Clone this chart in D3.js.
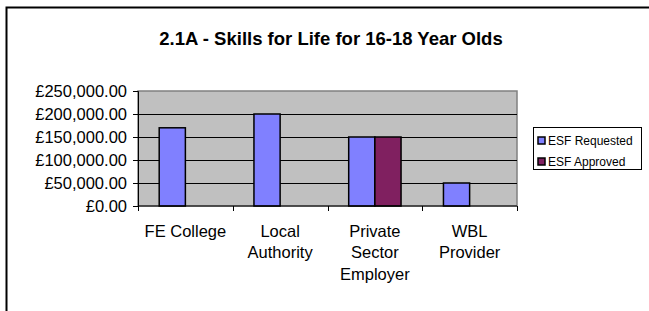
<!DOCTYPE html>
<html lang="en">
<head>
<meta charset="utf-8">
<title>2.1A - Skills for Life for 16-18 Year Olds</title>
<script src="https://d3js.org/d3.v7.min.js"></script>
<style>
    body { margin: 0; background: white; }
    svg { display: block; font-family: Arial, "Liberation Sans", sans-serif; }
</style>
</head>
<body>
<div id="viz"></div>
<script>

    // data
    var categories = [["FE College"], ["Local", "Authority"], ["Private", "Sector", "Employer"], ["WBL", "Provider"]];
    var seriesNames = ["ESF Requested", "ESF Approved"];
    var requested = [170000, 200000, 150000, 50000];
    var approved = [0, 0, 150000, 0];
    var yTicks = [0, 50000, 100000, 150000, 200000, 250000];
    var colors = ["#8080ff", "#802060"];

    var width = 649, height = 311;
    var plot = {left: 138, right: 517, top: 91, bottom: 206};

    var svg = d3.select("#viz").append("svg")
        .attr("width", width)
        .attr("height", height);

    // outer frame (only top and left edges are in view)
    svg.append("path")
        .attr("d", "M6.5," + height + "V7.5H" + width)
        .attr("fill", "none")
        .attr("stroke", "#000")
        .attr("stroke-width", 2);

    svg.append("text")
        .attr("x", 331)
        .attr("y", 44.5)
        .attr("text-anchor", "middle")
        .style("font-weight", "bold")
        .style("font-size", "18.5px")
        .text("2.1A - Skills for Life for 16-18 Year Olds");

    var x = d3.scaleBand()
        .domain(d3.range(categories.length))
        .range([plot.left, plot.right])
        .paddingInner(0)
        .paddingOuter(0);

    var xInner = d3.scaleBand()
        .domain(d3.range(seriesNames.length))
        .range([0, x.bandwidth()])
        .paddingOuter(0.81);

    var y = d3.scaleLinear()
        .domain([0, 250000])
        .range([plot.bottom, plot.top]);

    // plot area
    svg.append("rect")
        .attr("x", plot.left)
        .attr("y", plot.top)
        .attr("width", plot.right - plot.left)
        .attr("height", plot.bottom - plot.top)
        .attr("fill", "#c0c0c0")
        .attr("stroke", "#808080")
        .attr("stroke-width", 1.5);

    // gridlines
    svg.append("g")
        .selectAll("line")
        .data(yTicks.filter(d => d > 0 && d < 250000))
        .enter()
        .append("line")
        .attr("x1", plot.left)
        .attr("x2", plot.right)
        .attr("y1", d => Math.round(y(d)) + 0.5)
        .attr("y2", d => Math.round(y(d)) + 0.5)
        .attr("stroke", "#000")
        .attr("stroke-width", 1);

    var fmt = d3.format(",.2f");
    var yAxis = svg.append("g")
        .attr("transform", "translate(" + plot.left + ",0)")
        .call(d3.axisLeft(y).tickValues(yTicks).tickSize(5).tickPadding(6)
            .tickFormat(d => "£" + fmt(d)));
    yAxis.select(".domain").attr("stroke", "#000");
    yAxis.selectAll("text").style("font-size", "16.5px").attr("fill", "#000")
        .attr("font-family", null);

    // bars
    var series = [requested, approved];
    var groups = svg.append("g")
        .selectAll("g")
        .data(categories.map((c, i) => i))
        .enter()
        .append("g")
        .attr("transform", d => "translate(" + x(d) + ",0)");

    groups.selectAll("rect")
        .data(i => series.map((s, k) => ({k: k, v: s[i]})).filter(d => d.v > 0))
        .enter()
        .append("rect")
        .attr("x", d => xInner(d.k))
        .attr("width", xInner.bandwidth())
        .attr("y", d => y(d.v))
        .attr("height", d => y(0) - y(d.v))
        .attr("fill", d => colors[d.k])
        .attr("stroke", "#000")
        .attr("stroke-width", 1.5);

    // x axis
    var xAxis = svg.append("g")
        .attr("transform", "translate(0," + plot.bottom + ")");
    xAxis.append("line")
        .attr("x1", plot.left)
        .attr("x2", plot.right)
        .attr("stroke", "#000");
    xAxis.selectAll(".tick")
        .data(d3.range(categories.length + 1))
        .enter()
        .append("line")
        .attr("x1", d => Math.round(plot.left + d * x.step()) + 0.5)
        .attr("x2", d => Math.round(plot.left + d * x.step()) + 0.5)
        .attr("y1", 0)
        .attr("y2", 5)
        .attr("stroke", "#000");

    svg.append("g")
        .selectAll("text")
        .data(categories)
        .enter()
        .append("text")
        .attr("x", (d, i) => x(i) + x.bandwidth() / 2)
        .attr("y", 236.5)
        .attr("text-anchor", "middle")
        .style("font-size", "16.5px")
        .selectAll("tspan")
        .data(d => d)
        .enter()
        .append("tspan")
        .attr("x", function () { return d3.select(this.parentNode).attr("x"); })
        .attr("dy", (d, i) => i === 0 ? 0 : 21.5)
        .text(d => d);

    // legend
    var legend = svg.append("g").attr("transform", "translate(533,127)");
    legend.append("rect")
        .attr("x", 0.5)
        .attr("y", 0.5)
        .attr("width", 108)
        .attr("height", 42)
        .attr("fill", "#fff")
        .attr("stroke", "#000");
    var items = legend.selectAll(".item")
        .data(seriesNames)
        .enter()
        .append("g")
        .attr("transform", (d, i) => "translate(5," + (10 + i * 21) + ")");
    items.append("rect")
        .attr("width", 7)
        .attr("height", 7)
        .attr("fill", (d, i) => colors[i])
        .attr("stroke", "#000")
        .attr("stroke-width", 1.5);
    items.append("text")
        .attr("x", 10)
        .attr("y", 8)
        .style("font-size", "12px")
        .text(d => d);

</script>
</body>
</html>
